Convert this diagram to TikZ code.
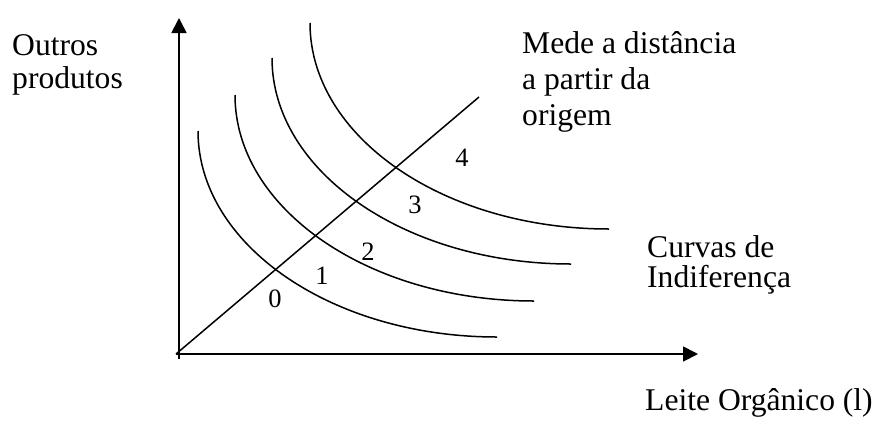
\documentclass[tikz,border=0pt]{standalone}
\usepackage{fontspec}
\setmainfont{Liberation Serif}
\usetikzlibrary{arrows.meta}
\begin{document}
\begin{tikzpicture}[x=1pt,y=1pt,
  axis/.style={line width=1.7pt,-{Triangle[length=15pt,width=15pt]}},
  curve/.style={line width=1.5pt},
  big/.style={font=\fontsize{31.6}{36}\selectfont, inner sep=0pt, anchor=base west},
  num/.style={font=\fontsize{26.5}{30}\selectfont, inner sep=0pt}]
\useasboundingbox (0,0) rectangle (872,-421);
% axes
\coordinate (O) at (176,-354);
\coordinate (ybot) at (179,-359);
\coordinate (ytip) at (179,-18);
\coordinate (xtip) at (698,-354);
\coordinate (dend) at (479,-97);
\draw[axis] (ybot) -- (ytip);
\draw[axis] (O) -- (xtip);
\draw[curve] (O) -- (dend);
% indifference curves (quarter ellipses)
\foreach \cx/\cy in {198/131, 235/95, 272/58, 310/23}
  \draw[curve] (\cx,-\cy) arc[start angle=180, end angle=270, x radius=299, y radius=206];
% labels
\node[big] (outros) at (12,-55) {Outros};
\node[big] (produtos) at (12,-88) {produtos};
\node[big] (mede1) at (522,-53) {Mede a distância};
\node[big] (mede2) at (522,-89) {a partir da};
\node[big] (mede3) at (522,-125) {origem};
\node[big] (curvas1) at (647,-257) {Curvas de};
\node[big] (curvas2) at (647,-287) {Indiferença};
\node[big] (leite) at (645,-410) {Leite Orgânico (l)};
\node[num] (n0) at (275,-299) {0};
\node[num] (n1) at (322,-276) {1};
\node[num] (n2) at (368,-252) {2};
\node[num] (n3) at (415,-205) {3};
\node[num] (n4) at (462,-158) {4};
\end{tikzpicture}
\end{document}
